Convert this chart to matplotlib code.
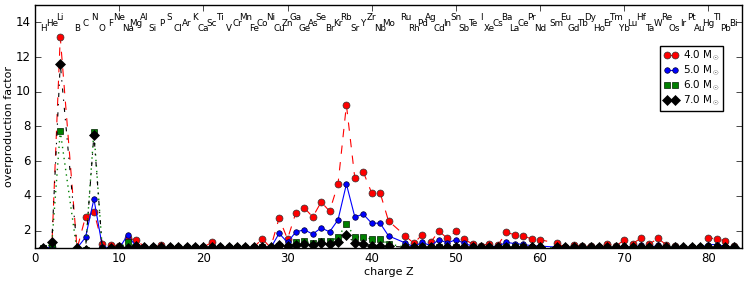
import numpy as np
import matplotlib
matplotlib.use('Agg')
import matplotlib.pyplot as plt

# elementos (sin Be, Tc, Pm)
simbolos = ['H', 'He', 'Li', 'B', 'C', 'N', 'O', 'F', 'Ne', 'Na', 'Mg', 'Al',
            'Si', 'P', 'S', 'Cl', 'Ar', 'K', 'Ca', 'Sc', 'Ti', 'V', 'Cr', 'Mn',
            'Fe', 'Co', 'Ni', 'Cu', 'Zn', 'Ga', 'Ge', 'As', 'Se', 'Br', 'Kr',
            'Rb', 'Sr', 'Y', 'Zr', 'Nb', 'Mo', 'Ru', 'Rh', 'Pd', 'Ag', 'Cd',
            'In', 'Sn', 'Sb', 'Te', 'I', 'Xe', 'Cs', 'Ba', 'La', 'Ce', 'Pr',
            'Nd', 'Sm', 'Eu', 'Gd', 'Tb', 'Dy', 'Ho', 'Er', 'Tm', 'Yb', 'Lu',
            'Hf', 'Ta', 'W', 'Re', 'Os', 'Ir', 'Pt', 'Au', 'Hg', 'Tl', 'Pb',
            'Bi']
Z = [1, 2, 3] + list(range(5, 43)) + list(range(44, 61)) + list(range(62, 84))

# factores de sobreproduccion por masa
f40 = [1.00, 1.05, 13.15, 0.95, 2.80, 3.10, 1.23, 1.17, 1.13, 1.55,   # H..Na
       1.46, 1.08, 1.03, 1.17, 1.05, 1.04, 1.03, 1.04, 1.04, 1.33,    # Mg..Sc
       1.04, 1.03, 1.04, 1.03, 1.04, 1.53, 1.02, 2.72, 1.52, 3.04,    # Ti..Ga
       3.31, 2.79, 3.65, 3.12, 4.68, 9.24, 5.02, 5.39, 4.17, 4.19,    # Ge..Nb
       2.56, 1.70, 1.27, 1.76, 1.33, 1.97, 1.55, 1.97, 1.50, 1.23,    # Mo..Te
       1.13, 1.25, 1.17, 1.90, 1.76, 1.70, 1.52, 1.48, 1.27, 1.04,    # I..Eu
       1.19, 1.10, 1.13, 1.06, 1.23, 1.11, 1.46, 1.25, 1.57, 1.23,    # Gd..Ta
       1.55, 1.19, 1.10, 1.00, 1.03, 1.03, 1.59, 1.52, 1.42, 1.10]    # W..Bi
f50 = [0.95, 1.10, 0.85, 1.00, 1.61, 3.82, 1.08, 1.00, 0.98, 1.74,
       1.10, 1.02, 1.00, 1.05, 1.00, 1.00, 1.00, 1.00, 1.00, 1.05,
       1.00, 1.00, 1.00, 1.00, 1.00, 1.12, 1.00, 1.84, 1.33, 1.93,
       2.05, 1.80, 2.16, 1.93, 2.62, 4.68, 2.79, 2.95, 2.43, 2.43,
       1.70, 1.29, 1.07, 1.33, 1.13, 1.48, 1.29, 1.48, 1.27, 1.10,
       1.05, 1.08, 1.10, 1.33, 1.25, 1.21, 1.13, 1.11, 1.05, 1.00,
       1.02, 1.00, 1.02, 1.00, 1.03, 1.00, 1.10, 1.03, 1.15, 1.03,
       1.15, 1.03, 1.00, 1.00, 1.00, 1.00, 1.20, 1.20, 1.10, 1.02]
f60 = [0.98, 1.25, 7.75, 0.80, 0.90, 7.71, 0.90, 0.95, 1.00, 1.33,
       1.05, 1.02, 1.00, 1.02, 1.00, 1.00, 1.00, 1.00, 1.00, 1.02,
       1.00, 1.00, 1.00, 1.00, 1.00, 1.05, 1.00, 1.10, 1.05, 1.33,
       1.38, 1.27, 1.42, 1.38, 1.61, 2.39, 1.63, 1.65, 1.50, 1.50,
       1.23, 1.05, 1.02, 1.05, 1.02, 1.05, 1.02, 1.05, 1.02, 1.02,
       1.00, 1.02, 1.02, 1.05, 1.03, 1.03, 1.02, 1.02, 1.02, 1.00,
       1.00, 1.00, 1.00, 1.00, 1.00, 1.00, 1.02, 1.00, 1.02, 1.00,
       1.02, 1.00, 1.00, 1.00, 1.00, 1.00, 1.03, 1.03, 1.02, 1.00]
f70 = [0.98, 1.36, 11.62, 1.00, 0.90, 7.52, 0.95, 0.98, 1.05, 1.02,
       1.13, 1.05, 1.03, 1.03, 1.03, 1.03, 1.03, 1.03, 1.03, 1.05,
       1.03, 1.03, 1.03, 1.03, 1.03, 1.05, 1.03, 1.19, 1.13, 1.19,
       1.23, 1.17, 1.27, 1.23, 1.36, 1.76, 1.27, 1.23, 1.13, 1.13,
       1.10, 1.05, 1.03, 1.05, 1.03, 1.05, 1.03, 1.05, 1.03, 1.03,
       1.03, 1.03, 1.03, 1.05, 1.03, 1.03, 1.03, 1.03, 1.03, 1.03,
       1.03, 1.03, 1.03, 1.03, 1.03, 1.03, 1.03, 1.03, 1.03, 1.03,
       1.03, 1.03, 1.03, 1.03, 1.03, 1.03, 1.05, 1.05, 1.03, 1.03]

plt.style.use('classic')
plt.rcParams['font.size'] = 8

fig = plt.figure(figsize=(7.47, 2.83), dpi=100, facecolor='white')
ax = fig.add_axes([35 / 747, 35 / 283, 707 / 747, 243 / 283])

ax.plot(Z, f40, 'o--', color='red', mfc='red', mec='#333333', ms=5, mew=0.5,
        lw=0.8, label=r'4.0 M$_{\odot}$')
ax.plot(Z, f50, 'o-', color='blue', mfc='blue', mec='#000033', ms=4, mew=0.5,
        lw=0.8, label=r'5.0 M$_{\odot}$')
ax.plot(Z, f60, 's:', color='green', mfc='green', mec='#002200', ms=4.5,
        mew=0.5, lw=1.0, label=r'6.0 M$_{\odot}$')
ax.plot(Z, f70, 'D-.', color='black', mfc='black', mec='black', ms=5, mew=0.5,
        lw=0.8, label=r'7.0 M$_{\odot}$')

# simbolos arriba en tres niveles
niveles = [13.65, 13.95, 14.27]
for i, (z, s) in enumerate(zip(Z, simbolos)):
    ax.text(z, niveles[i % 3], s, fontsize=6.3, ha='center', va='center')

ax.set_xlim(0, 84)
ax.set_ylim(1, 15)
ax.set_yticks([2, 4, 6, 8, 10, 12, 14])
ax.set_xlabel('charge Z', fontsize=8, labelpad=1)
ax.set_ylabel('overproduction factor', fontsize=8, labelpad=1)
ax.tick_params(labelsize=8.5, pad=3)
ax.legend(loc='upper right', bbox_to_anchor=(0.973, 0.831), numpoints=2,
          fontsize=7.5, handlelength=1.4, borderpad=0.3, labelspacing=0.05,
          handletextpad=0.5, borderaxespad=0)

fig.savefig('out.png', dpi=100, facecolor='white')
